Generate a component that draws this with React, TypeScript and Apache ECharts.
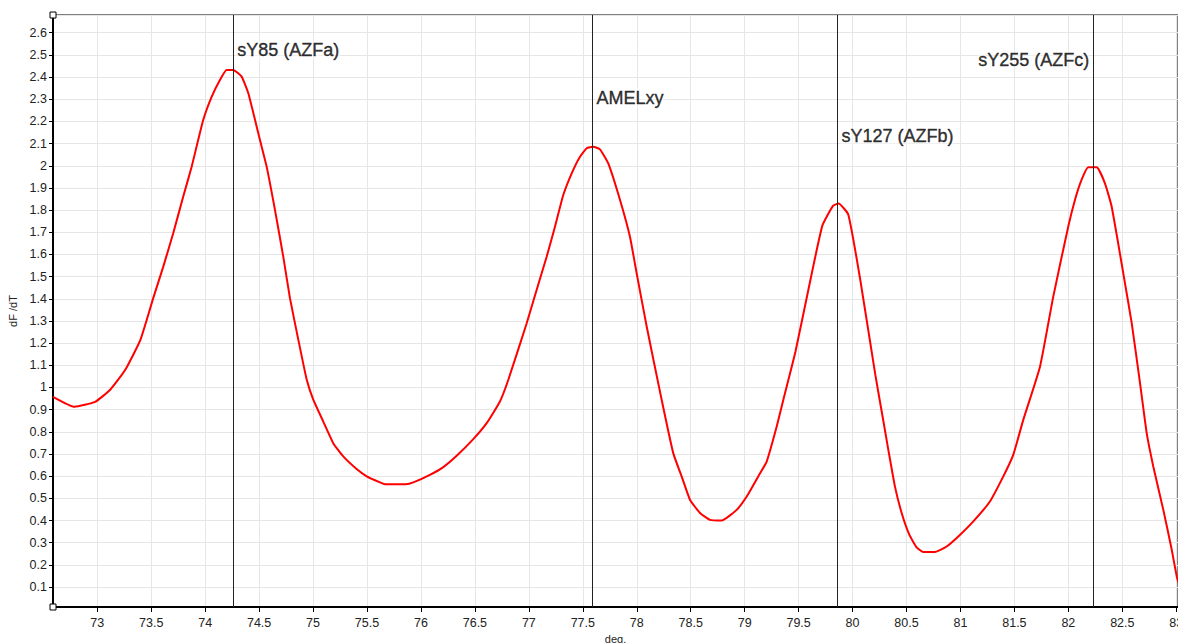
import React, { useEffect, useRef } from "react";
import * as echarts from "echarts";

const curveX = [
  72.59, 72.79, 72.98, 73.12, 73.26, 73.4, 73.519, 73.612, 73.704, 73.797, 73.875, 73.982,
  74.06, 74.137, 74.199, 74.26, 74.338, 74.4, 74.508, 74.57, 74.647, 74.724, 74.786, 74.87,
  74.941, 75.002, 75.095, 75.187, 75.28, 75.404, 75.497, 75.62, 75.666, 75.861, 75.929, 76.083,
  76.207, 76.331, 76.485, 76.609, 76.732, 76.809, 76.98, 77.072, 77.165, 77.242, 77.319, 77.397,
  77.474, 77.536, 77.597, 77.659, 77.736, 77.845, 77.937, 77.999, 78.092, 78.231, 78.338, 78.416,
  78.493, 78.586, 78.678, 78.787, 78.926, 79.019, 79.126, 79.204, 79.297, 79.358, 79.47, 79.59,
  79.72, 79.82, 79.87, 79.96, 80.07, 80.21, 80.285, 80.331, 80.393, 80.455, 80.526, 80.594,
  80.655, 80.764, 80.872, 80.98, 81.119, 81.273, 81.397, 81.489, 81.582, 81.737, 81.86, 81.999,
  82.061, 82.123, 82.184, 82.262, 82.339, 82.401, 82.509, 82.587, 82.664, 82.726, 82.787, 82.88,
  82.958, 83.004, 83.02,
];
const curveY = [
  0.958, 0.913, 0.935, 0.99, 1.08, 1.215, 1.403, 1.545, 1.696, 1.861, 1.996, 2.206,
  2.311, 2.387, 2.432, 2.432, 2.402, 2.327, 2.116, 1.996, 1.801, 1.59, 1.403, 1.2,
  1.036, 0.945, 0.846, 0.749, 0.689, 0.632, 0.599, 0.572, 0.564, 0.564, 0.572, 0.606,
  0.641, 0.692, 0.767, 0.839, 0.937, 1.034, 1.29, 1.44, 1.59, 1.725, 1.868, 1.966,
  2.041, 2.079, 2.086, 2.074, 2.011, 1.846, 1.68, 1.515, 1.275, 0.944, 0.704, 0.599,
  0.494, 0.434, 0.403, 0.4, 0.448, 0.508, 0.599, 0.666, 0.824, 0.944, 1.16, 1.44,
  1.73, 1.82, 1.83, 1.78, 1.49, 1.06, 0.85, 0.72, 0.553, 0.434, 0.336, 0.279,
  0.258, 0.258, 0.283, 0.328, 0.396, 0.486, 0.599, 0.696, 0.854, 1.094, 1.41, 1.726,
  1.846, 1.937, 1.993, 1.993, 1.921, 1.816, 1.515, 1.29, 1.02, 0.794, 0.644, 0.448,
  0.268, 0.148, 0.12,
];

const markerNames = ["sY85 (AZFa)", "AMELxy", "sY127 (AZFb)", "sY255 (AZFc)"];
const markerX = [74.26, 77.59, 79.86, 82.23];
const markerLabelY = [2.52, 2.306, 2.135, 2.476];
const markerLabelSide = ["right", "right", "right", "left"];

const xName = "deg.";
const yName = "dF /dT";

export default function App() {
  const ref = useRef<HTMLDivElement>(null);
  useEffect(() => {
    if (!ref.current) return;
    const chart = echarts.init(ref.current, null, { renderer: "svg" });
    const tickFont = { fontFamily: "Liberation Sans, Arial, sans-serif", fontSize: 12.5, color: "#222" };
    chart.setOption({
      animation: false,
      backgroundColor: "#fff",
      grid: {
        left: 53,
        top: 15,
        right: 0,
        bottom: 36,
        containLabel: false,
        outerBoundsMode: "none",
        show: true,
        borderColor: "#000",
        borderWidth: 1,
      },
      xAxis: {
        type: "value",
        min: 72.59,
        max: 83.016,
        minInterval: 0.5,
        maxInterval: 0.5,
        name: xName,
        nameLocation: "middle",
        nameGap: 25,
        nameTextStyle: { fontFamily: "Liberation Sans, Arial, sans-serif", fontSize: 11, color: "#222" },
        axisLine: { show: true, onZero: false, lineStyle: { color: "#000", width: 2 } },
        axisTick: { show: true, length: 5, lineStyle: { color: "#000" } },
        axisLabel: { ...tickFont, margin: 9, showMinLabel: false, showMaxLabel: false, hideOverlap: false },
        splitLine: { show: true, lineStyle: { color: "#e6e6e6", width: 1 } },
      },
      yAxis: {
        type: "value",
        min: 0.01,
        max: 2.68,
        minInterval: 0.1,
        maxInterval: 0.1,
        name: yName,
        nameLocation: "middle",
        nameRotate: 90,
        nameGap: 29,
        nameTextStyle: { fontFamily: "Liberation Sans, Arial, sans-serif", fontSize: 11, color: "#222" },
        axisLine: { show: true, onZero: false, lineStyle: { color: "#000", width: 2 } },
        axisTick: { show: true, length: 4, lineStyle: { color: "#000" } },
        axisLabel: { ...tickFont, margin: 6, showMinLabel: false, showMaxLabel: false },
        splitLine: { show: true, lineStyle: { color: "#e6e6e6", width: 1 } },
      },
      series: [
        {
          type: "line",
          data: curveX.map((x, i) => [x, curveY[i]]),
          showSymbol: false,
          smooth: 0.15,
          lineStyle: { color: "#ff0000", width: 2 },
          z: 3,
          markLine: {
            silent: true,
            symbol: "none",
            label: { show: false },
            lineStyle: { color: "#222", width: 1, type: "solid" },
            data: markerX.map((x) => ({ xAxis: x })),
          },
        },
        {
          type: "scatter",
          symbolSize: 0,
          z: 5,
          data: markerX.map((x, i) => ({
            value: [x, markerLabelY[i]],
            label: {
              show: true,
              formatter: markerNames[i],
              position: markerLabelSide[i],
              distance: 3,
              fontFamily: "Liberation Sans, Arial, sans-serif",
              fontSize: 18,
              color: "#000",
              textBorderColor: "#000",
              textBorderWidth: 0.4,
              backgroundColor: "rgba(255,255,255,0.5)",
              padding: [1, 1],
            },
          })),
        },
      ],
      graphic: [
        { type: "rect", shape: { x: 50, y: 12, width: 6, height: 6 }, style: { fill: "#fff", stroke: "#000", lineWidth: 1 }, z: 100 },
        { type: "rect", shape: { x: 50, y: 604, width: 6, height: 6 }, style: { fill: "#fff", stroke: "#000", lineWidth: 1 }, z: 100 },
      ],
    });
    return () => chart.dispose();
  }, []);
  return (
    <div
      ref={ref}
      style={{ position: "absolute", left: 0, top: 0, width: 1178, height: 643 }}
    />
  );
}
